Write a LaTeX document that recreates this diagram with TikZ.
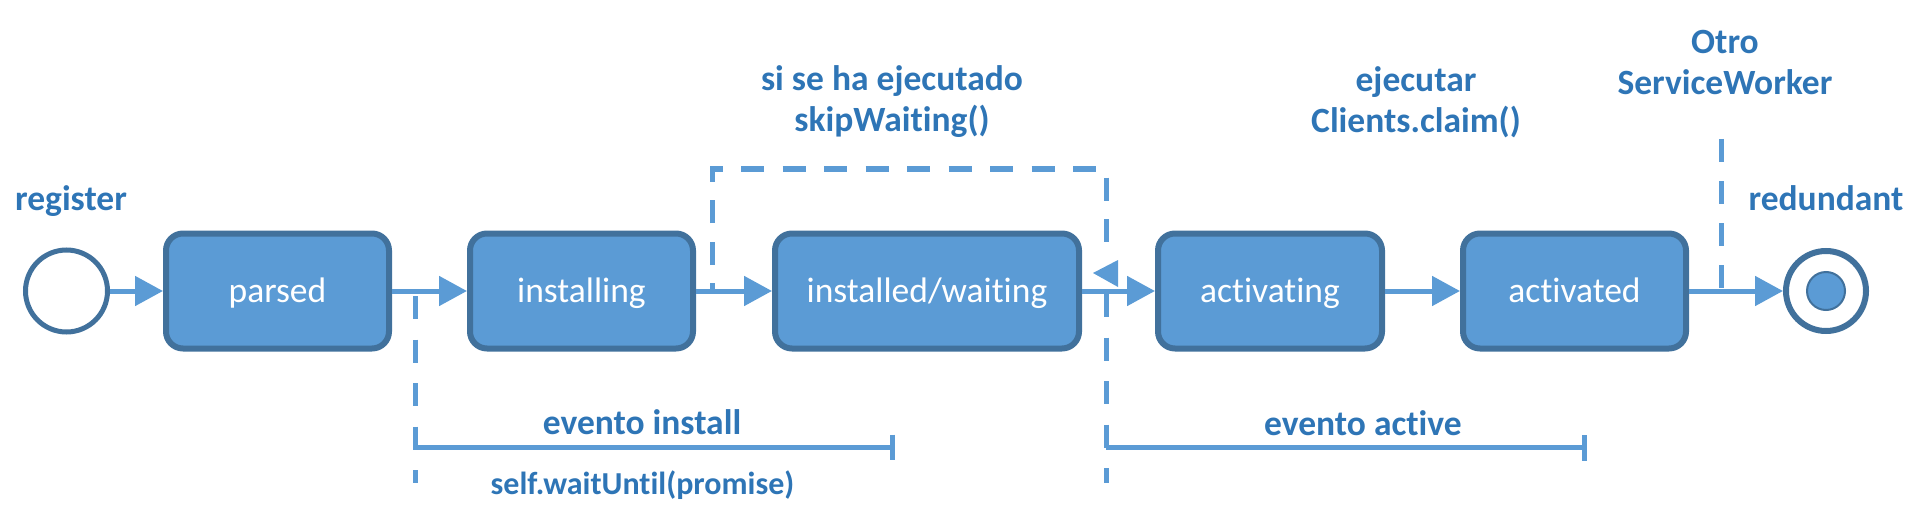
\documentclass[tikz,border=0pt]{standalone}
\usepackage{fontspec}
\setmainfont{Carlito}[Ligatures=NoCommon]
\usetikzlibrary{arrows.meta}
\definecolor{boxfill}{HTML}{5B9BD5}
\definecolor{boxline}{HTML}{41719C}
\definecolor{conn}{HTML}{5B9BD5}
\definecolor{lbl}{HTML}{2E75B6}
\begin{document}
\begin{tikzpicture}[x=0.5pt,y=-0.5pt,
  state/.style={draw=boxline, fill=boxfill, line width=3pt, rounded corners=8.5pt,
    minimum height=57.5pt, minimum width=111.5pt, text=white, inner sep=0pt,
    text height=13pt, text depth=2pt, font=\fontsize{17.75}{20}\selectfont},
  flow/.style={draw=conn, line width=2.5pt, -{Triangle[length=14pt,width=14.5pt]}},
  plainln/.style={draw=conn, line width=2.5pt},
  dashln/.style={draw=conn, line width=2.5pt, dash pattern=on 11.5pt off 10.25pt},
  loopln/.style={draw=conn, line width=2.5pt, dash pattern=on 11.5pt off 9.25pt, dash phase=6.5pt},
  lab/.style={text=lbl, font=\bfseries\fontsize{17.75}{20.5}\selectfont, align=center, inner sep=0pt, anchor=base},
  smalllab/.style={text=lbl, font=\bfseries\fontsize{16}{19}\selectfont, inner sep=0pt, anchor=base}
]
\useasboundingbox (0,0) rectangle (1917,519);

% states
\node[circle, draw=boxline, fill=white, line width=2.5pt, minimum size=41pt, inner sep=0pt] (start) at (66.5,291) {};
\node[state] (parsed) at (277.5,291) {parsed};
\node[state] (installing) at (581.5,291) {installing};
\node[state, minimum width=152pt] (installed) at (927,291) {installed/waiting};
\node[state, minimum width=112pt] (activating) at (1270,291) {activating};
\node[state] (activated) at (1574.5,291) {activated};
\node[circle, draw=boxline, fill=white, line width=3pt, minimum size=40pt, inner sep=0pt] (end) at (1826,291) {};
\node[circle, draw=boxline, fill=boxfill, line width=1pt, minimum size=19pt, inner sep=0pt] (endin) at (1826,291) {};

% main flow
\draw[flow] (start) -- (parsed);
\draw[flow] (parsed) -- (installing);
\draw[flow] (installing) -- (installed);
\draw[flow] (installed) -- (activating);
\draw[flow] (activating) -- (activated);
\draw[flow] (activated) -- (end);

% coordinates for dashed lines and brackets
\coordinate (insTop) at (415,296);
\coordinate (insBot) at (415,483);
\coordinate (insL) at (415,447);
\coordinate (insR) at (892,447);
\coordinate (insRt) at (892,434.5);
\coordinate (insRb) at (892,459.5);
\coordinate (actTop) at (1106,294);
\coordinate (actBot) at (1106,483);
\coordinate (actL) at (1106,447);
\coordinate (actR) at (1584,447);
\coordinate (actRt) at (1584,435);
\coordinate (actRb) at (1584,461);
\coordinate (skA) at (712,293);
\coordinate (skTop) at (900,169);
\coordinate (skB) at (1106,258);
\coordinate (otTop) at (1721,139);
\coordinate (otBot) at (1721,291);

% install event
\draw[dashln] (insTop) -- (insBot);
\draw[plainln] (insL) -- (insR);
\draw[plainln] (insRt) -- (insRb);
% active event
\draw[dashln] (actTop) -- (actBot);
\draw[plainln] (actL) -- (actR);
\draw[plainln] (actRt) -- (actRb);
% skipWaiting loop
\draw[loopln] (skA) |- (skTop) -| (skB);
\fill[conn] (1093,273) -- (1118,260) -- (1118,287) -- cycle;
% other service worker
\draw[dashln, dash pattern=on 11.5pt off 9.5pt] (otTop) -- (otBot);

% labels
\node[lab] (lreg) at (71,210) {register};
\node[lab] (lskip) at (892,132) {si se ha ejecutado\\skipWaiting()};
\node[lab] (lclaim) at (1416,133) {ejecutar\\Clients.claim()};
\node[lab] (lotro) at (1725,95) {Otro\\ServiceWorker};
\node[lab] (lred) at (1826,210) {redundant};
\node[lab] (linst) at (642,434) {evento install};
\node[smalllab] (lwait) at (642.5,494) {self.waitUntil(promise)};
\node[lab] (lact) at (1363,435) {evento active};
\end{tikzpicture}
\end{document}
